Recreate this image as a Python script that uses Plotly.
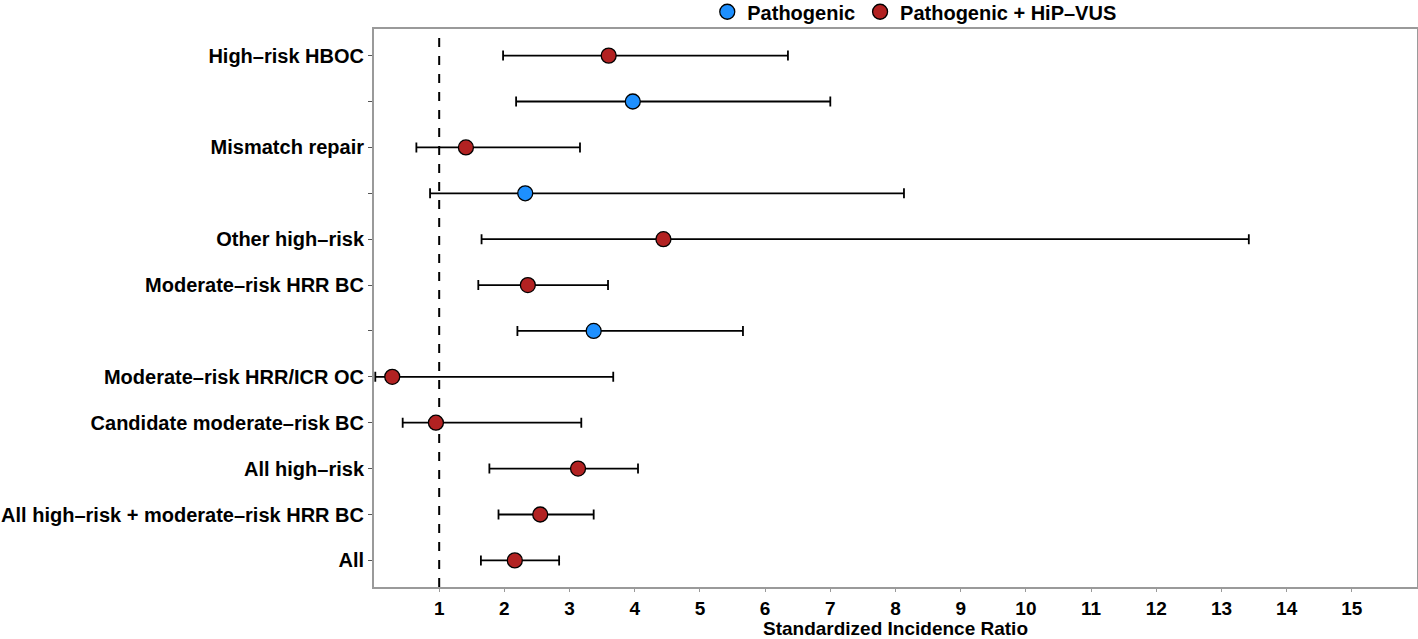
import plotly.graph_objects as go

# ---- data (rows listed top to bottom) ----
row_labels = [
    "High–risk HBOC", "", "Mismatch repair", "", "Other high–risk",
    "Moderate–risk HRR BC", "", "Moderate–risk HRR/ICR OC",
    "Candidate moderate–risk BC", "All high–risk",
    "All high–risk + moderate–risk HRR BC", "All",
]

# Pathogenic (blue) rows
path_rows = [1, 3, 6]
path_sir = [3.97, 2.32, 3.37]
path_lo = [2.18, 0.86, 2.20]
path_hi = [7.00, 8.13, 5.66]

# Pathogenic + HiP-VUS (red) rows
hip_rows = [0, 2, 4, 5, 7, 8, 9, 10, 11]
hip_sir = [3.60, 1.41, 4.44, 2.36, 0.28, 0.95, 3.13, 2.55, 2.16]
hip_lo = [1.98, 0.65, 1.65, 1.60, 0.02, 0.44, 1.77, 1.91, 1.64]
hip_hi = [6.35, 3.16, 13.42, 3.59, 3.67, 3.18, 4.05, 3.37, 2.84]

x_ticks = list(range(1, 16))

FONT = "Liberation Sans"
FS = 20

fig = go.Figure()


def add_series(name, rows, sir, lo, hi, color):
    fig.add_trace(go.Scatter(
        x=sir, y=rows, mode="markers", name=name,
        marker=dict(size=15, color=color, line=dict(color="black", width=1.3)),
        error_x=dict(
            type="data", symmetric=False,
            array=[h - s for h, s in zip(hi, sir)],
            arrayminus=[s - l for s, l in zip(sir, lo)],
            color="black", thickness=1.8, width=5,
        ),
    ))


add_series("Pathogenic", path_rows, path_sir, path_lo, path_hi, "#1E90FF")
add_series("Pathogenic + HiP–VUS", hip_rows, hip_sir, hip_lo, hip_hi, "#B22222")

fig.add_vline(x=1, line=dict(color="black", width=2, dash="dash"), layer="below")

fig.update_layout(
    width=1418, height=639,
    margin=dict(l=374, r=1, t=29, b=52, autoexpand=False),
    paper_bgcolor="white", plot_bgcolor="white",
    font=dict(family=FONT, size=FS, color="black", weight="bold"),
    showlegend=True,
    legend=dict(
        orientation="h", x=0.518, xanchor="center", y=0.996, yanchor="bottom",
        font=dict(family=FONT, size=FS, color="black", weight="bold"),
        itemwidth=30, traceorder="normal", bgcolor="rgba(0,0,0,0)",
        tracegroupgap=0,
    ),
    xaxis=dict(
        range=[0, 16], tickvals=x_ticks, ticktext=[str(v) for v in x_ticks],
        showgrid=False, zeroline=False, automargin=False,
        showline=True, linecolor="#9a9a9a", linewidth=2, mirror=True,
        ticks="outside", ticklen=3, tickcolor="#9a9a9a", tickwidth=1,
        tickfont=dict(family=FONT, size=19, color="black", weight="bold"),
        title=dict(text="Standardized Incidence Ratio", standoff=3,
                   font=dict(family=FONT, size=19, color="black", weight="bold")),
    ),
    yaxis=dict(
        range=[11.58, -0.58], tickvals=list(range(len(row_labels))),
        ticktext=row_labels, automargin=False,
        showgrid=False, zeroline=False,
        showline=True, linecolor="#9a9a9a", linewidth=2, mirror=True,
        ticks="outside", ticklen=4, tickcolor="#555555", tickwidth=1,
        tickfont=dict(family=FONT, size=FS, color="black", weight="bold"),
    ),
)

fig.write_html(
    "out.html",
    config={"displayModeBar": False},
    post_script="document.body.style.margin='0';document.body.style.overflow='hidden';",
)
